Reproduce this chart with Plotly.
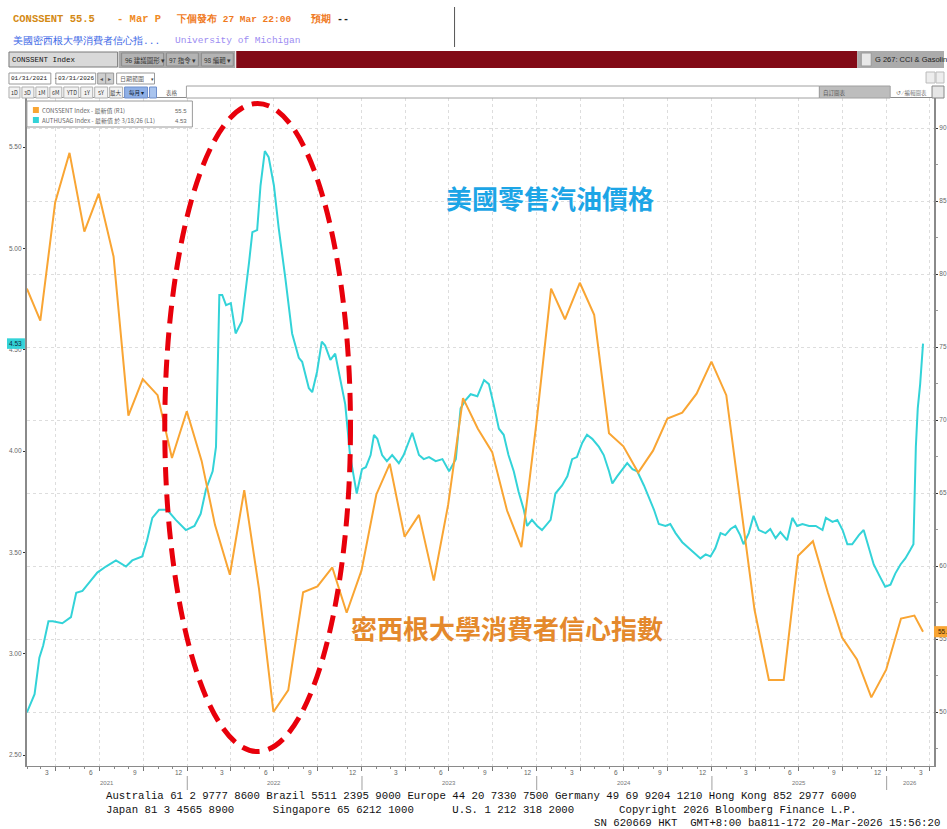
import plotly.graph_objects as go
import pandas as pd

W, H = 947, 829

# ---------------- data ----------------
sent_months = [
    "2021-01", "2021-02", "2021-03", "2021-04", "2021-05", "2021-06", "2021-07", "2021-08", "2021-09", "2021-10", "2021-11", "2021-12",
    "2022-01", "2022-02", "2022-03", "2022-04", "2022-05", "2022-06", "2022-07", "2022-08", "2022-09", "2022-10", "2022-11", "2022-12",
    "2023-01", "2023-02", "2023-03", "2023-04", "2023-05", "2023-06", "2023-07", "2023-08", "2023-09", "2023-10", "2023-11", "2023-12",
    "2024-01", "2024-02", "2024-03", "2024-04", "2024-05", "2024-06", "2024-07", "2024-08", "2024-09", "2024-10", "2024-11", "2024-12",
    "2025-01", "2025-02", "2025-03", "2025-04", "2025-05", "2025-06", "2025-07", "2025-08", "2025-09", "2025-10", "2025-11", "2025-12",
    "2026-01", "2026-02", "2026-03",
]
sent_values = [
    79.0, 76.8, 84.9, 88.3, 82.9, 85.5, 81.2, 70.3, 72.8, 71.7, 67.4, 70.6,
    67.2, 62.8, 59.4, 65.2, 58.4, 50.0, 51.5, 58.2, 58.6, 59.9, 56.8, 59.7,
    64.9, 67.0, 62.0, 63.5, 59.0, 64.2, 71.5, 69.4, 67.8, 63.8, 61.3, 69.7,
    79.0, 76.9, 79.4, 77.2, 69.1, 68.2, 66.4, 67.9, 70.1, 70.5, 71.8, 74.0,
    71.7, 64.7, 57.0, 52.2, 52.2, 60.7, 61.7, 58.2, 55.1, 53.6, 51.0, 52.9,
    56.4, 56.6, 55.5,
]
sent_last_obs = "2026-03-18"   # preliminary March reading plotted at last observation date

gas_dates = [
    "2021-01-31", "2021-02-16", "2021-02-26", "2021-03-06", "2021-03-17", "2021-03-26", "2021-04-15", "2021-05-03",
    "2021-05-14", "2021-05-27", "2021-06-10", "2021-06-27", "2021-07-15", "2021-08-05", "2021-08-26", "2021-09-08",
    "2021-09-29", "2021-10-09", "2021-10-20", "2021-11-03", "2021-11-20", "2021-12-08", "2021-12-29", "2022-01-16",
    "2022-01-29", "2022-02-09", "2022-02-23", "2022-03-02", "2022-03-09", "2022-03-15", "2022-03-23", "2022-04-02",
    "2022-04-12", "2022-04-25", "2022-05-10", "2022-05-17", "2022-05-27", "2022-06-03", "2022-06-12", "2022-06-20",
    "2022-07-01", "2022-07-11", "2022-07-25", "2022-08-08", "2022-08-22", "2022-08-29", "2022-09-12", "2022-09-19",
    "2022-09-29", "2022-10-09", "2022-10-16", "2022-10-27", "2022-11-06", "2022-11-13", "2022-11-27", "2022-12-07",
    "2022-12-21", "2023-01-01", "2023-01-09", "2023-01-19", "2023-01-26", "2023-02-02", "2023-02-12", "2023-02-22",
    "2023-03-05", "2023-03-19", "2023-03-29", "2023-04-16", "2023-04-30", "2023-05-10", "2023-05-21", "2023-06-04",
    "2023-06-18", "2023-07-02", "2023-07-16", "2023-07-26", "2023-08-05", "2023-08-16", "2023-08-30", "2023-09-13",
    "2023-09-23", "2023-10-03", "2023-10-14", "2023-10-24", "2023-11-03", "2023-11-14", "2023-11-24", "2023-12-05",
    "2023-12-12", "2023-12-22", "2024-01-02", "2024-01-12", "2024-01-23", "2024-01-30", "2024-02-09", "2024-02-23",
    "2024-03-05", "2024-03-15", "2024-03-25", "2024-04-05", "2024-04-15", "2024-04-26", "2024-05-10", "2024-05-20",
    "2024-05-31", "2024-06-07", "2024-06-17", "2024-06-28", "2024-07-08", "2024-07-19", "2024-07-29", "2024-08-12",
    "2024-08-23", "2024-09-02", "2024-09-12", "2024-09-26", "2024-10-06", "2024-10-17", "2024-10-31", "2024-11-14",
    "2024-11-24", "2024-12-08", "2024-12-19", "2024-12-29", "2025-01-08", "2025-01-19", "2025-01-29", "2025-02-09",
    "2025-02-19", "2025-03-01", "2025-03-08", "2025-03-19", "2025-03-29", "2025-04-09", "2025-04-23", "2025-05-03",
    "2025-05-14", "2025-05-24", "2025-06-07", "2025-06-18", "2025-06-28", "2025-07-09", "2025-07-23", "2025-08-06",
    "2025-08-20", "2025-08-27", "2025-09-10", "2025-09-20", "2025-10-01", "2025-10-11", "2025-10-21", "2025-11-04",
    "2025-11-14", "2025-11-25", "2025-12-05", "2025-12-19", "2025-12-29", "2026-01-09", "2026-01-19", "2026-01-30",
    "2026-02-09", "2026-02-19", "2026-02-26", "2026-03-03", "2026-03-07", "2026-03-12", "2026-03-18",
]
gas_values = [
    2.71, 2.80, 2.98, 3.04, 3.16, 3.16, 3.15, 3.18,
    3.30, 3.31, 3.35, 3.40, 3.43, 3.46, 3.43, 3.46,
    3.48, 3.56, 3.67, 3.71, 3.71, 3.66, 3.61, 3.63,
    3.69, 3.81, 3.90, 4.02, 4.77, 4.77, 4.72, 4.73,
    4.58, 4.64, 4.93, 5.08, 5.09, 5.31, 5.48, 5.45,
    5.31, 5.10, 4.85, 4.58, 4.46, 4.44, 4.31, 4.29,
    4.39, 4.54, 4.52, 4.45, 4.48, 4.40, 4.23, 3.98,
    3.79, 3.91, 3.92, 3.98, 4.08, 4.06, 3.98, 3.95,
    3.98, 3.94, 3.98, 4.09, 3.98, 3.96, 3.97, 3.95,
    3.96, 3.90, 3.96, 4.21, 4.25, 4.28, 4.27, 4.35,
    4.33, 4.23, 4.11, 4.08, 3.98, 3.90, 3.80, 3.71,
    3.63, 3.66, 3.63, 3.61, 3.64, 3.66, 3.79, 3.83,
    3.875, 3.96, 3.97, 4.04, 4.08, 4.06, 4.02, 3.98,
    3.90, 3.84, 3.875, 3.91, 3.94, 3.91, 3.90, 3.83,
    3.77, 3.71, 3.64, 3.63, 3.64, 3.595, 3.55, 3.52,
    3.50, 3.47, 3.49, 3.48, 3.52, 3.595, 3.585, 3.615,
    3.63, 3.585, 3.54, 3.595, 3.68, 3.61, 3.595, 3.615,
    3.57, 3.60, 3.56, 3.67, 3.63, 3.64, 3.63, 3.63,
    3.61, 3.67, 3.65, 3.66, 3.61, 3.54, 3.54, 3.585,
    3.61, 3.52, 3.44, 3.375, 3.33, 3.34, 3.395, 3.44,
    3.47, 3.51, 3.54, 4.02, 4.21, 4.33, 4.53,
]

left_ticks = [2.50, 3.00, 3.50, 4.00, 4.50, 5.00, 5.50]
right_ticks = [50, 55, 60, 65, 70, 75, 80, 85, 90]
month_tick_labels = {3: "3", 6: "6", 9: "9", 12: "12"}
years = [2021, 2022, 2023, 2024, 2025, 2026]

gas_last_label = "4.53"
sent_last_label = "55.5"

# ---------------- helpers ----------------
ORANGE = "#F9A533"
CYAN = "#33D3D8"
X_START, X_END = "2021-01-31", "2026-04-10"


def px(x):
    return x / W


def py(y):
    return 1 - y / H


shapes = []
annotations = []


def rect(x0, y0, x1, y1, fill, line=None, lw=1):
    shapes.append(dict(type="rect", xref="paper", yref="paper",
                       x0=px(x0), x1=px(x1), y0=py(y1), y1=py(y0),
                       fillcolor=fill, line=dict(color=line or fill, width=lw if line else 0),
                       layer="above"))


def txt(x, y, s, size, color, family="Liberation Sans", anchor="left", weight=None):
    f = dict(size=size, color=color, family=family)
    if weight:
        f["weight"] = weight
    annotations.append(dict(x=px(x), y=py(y), xref="paper", yref="paper", text=s,
                            showarrow=False, xanchor=anchor, yanchor="middle", font=f,
                            borderpad=0))


MONO = "Liberation Mono"
CJK = "Noto Sans CJK TC"

# ---------------- derived data ----------------
sent_dates = list(pd.to_datetime([m + "-01" for m in sent_months]) + pd.offsets.MonthEnd(0))
sent_dates[-1] = pd.Timestamp(sent_last_obs)

fig = go.Figure()
fig.add_trace(go.Scatter(x=pd.to_datetime(gas_dates), y=gas_values, mode="lines",
                         line=dict(color=CYAN, width=2), yaxis="y", hoverinfo="skip"))
fig.add_trace(go.Scatter(x=sent_dates, y=sent_values, mode="lines",
                         line=dict(color=ORANGE, width=2), yaxis="y2", hoverinfo="skip"))

# ---------------- header ----------------
txt(12, 19, "CONSSENT 55.5", 10.5, "#D48A14", MONO, weight="bold")
txt(116, 19, "- Mar P", 10.5, "#F08A24", MONO, weight="bold")
txt(176, 19, "下個發布 27 Mar 22:00", 9.5, "#F07A1E", MONO, weight="bold")
txt(310, 19, "預期 <span style='color:#222'>--</span>", 10, "#F07A1E", MONO, weight="bold")
txt(12, 41, "美國密西根大學消費者信心指...", 9.5, "#3A66E6", MONO)
txt(175, 41, "University of Michigan", 9.5, "#9C8CF2", MONO)
shapes.append(dict(type="line", xref="paper", yref="paper", x0=px(456), x1=px(456),
                   y0=py(47), y1=py(7), line=dict(color="#555", width=1)))

# toolbar row 1
rect(119, 51, 236, 68, "#A8A8A8")
rect(9, 52, 118, 67, "#D9D9D9", "#7A7A7A")
txt(11, 59.5, "CONSSENT Index", 7.5, "#111", MONO)
rect(122, 53, 164, 66, "#B4B4B4", "#8C8C8C")
txt(124, 59.5, "96 建議圖形 ▾", 6.5, "#333", CJK)
rect(167, 53, 199, 66, "#B4B4B4", "#8C8C8C")
txt(169, 59.5, "97 指令 ▾", 6.5, "#333", CJK)
rect(202, 53, 234, 66, "#B4B4B4", "#8C8C8C")
txt(204, 59.5, "98 編輯 ▾", 6.5, "#333", CJK)
rect(237, 51, 860, 68, "#820A16")
rect(860, 51, 947, 68, "#ABABAB")
rect(864, 53, 874, 66, "#E8E8E8", "#999")
txt(877, 59.5, "G 267: CCI & Gasoline", 7.5, "#222", "Liberation Sans")

# toolbar row 2
rect(9, 73, 51, 84, "#FFFFFF", "#9A9A9A")
txt(10, 78.5, "01/31/2021", 6, "#222", MONO)
txt(53, 78.5, "-", 6, "#222", MONO)
rect(56, 73, 96, 84, "#FFFFFF", "#9A9A9A")
txt(57, 78.5, "03/31/2026", 6, "#222", MONO)
rect(98, 73, 106, 84, "#CFCFCF", "#9A9A9A")
rect(106, 73, 114, 84, "#CFCFCF", "#9A9A9A")
txt(99, 78.5, "◂", 6, "#555")
txt(107, 78.5, "▸", 6, "#555")
rect(117, 73, 155, 84, "#FFFFFF", "#9A9A9A")
txt(119, 78.5, "日期範圍", 6, "#666", CJK)
txt(150, 78.5, "▾", 5, "#444")
rect(929, 72, 938, 83, "#EDEDED", "#BBBBBB")
rect(939, 72, 947, 83, "#EDEDED", "#BBBBBB")

# toolbar row 3
row3 = [("1D", 9, 20), ("3D", 22, 34), ("1M", 36, 48), ("6M", 50, 62), ("YTD", 64, 79),
        ("1Y", 81, 93), ("5Y", 95, 108), ("最大", 110, 123)]
for lab, a, b in row3:
    rect(a, 87, b, 98, "#F2F2F2", "#B0B0B0")
    txt((a + b) / 2, 92.5, lab, 5.5, "#333", CJK, anchor="center")
rect(125, 87, 148, 98, "#8FB0E6", "#6F8FCC")
txt(136.5, 92.5, "每月 ▾", 5.5, "#123", CJK, anchor="center")
rect(150, 87, 157, 98, "#A9C4EE", "#6F8FCC")
txt(166, 92.5, "表格", 5.5, "#555", CJK)
rect(187, 86, 822, 98, "#FFFFFF", "#A0A0A0")
rect(822, 86, 893, 98, "#BDBDBD", "#A0A0A0")
txt(825, 92.5, "自訂圖表", 5.5, "#555", CJK)
txt(898, 92.5, "↺ ⁄ 編輯圖表", 5.5, "#777", CJK)
rect(935, 86, 947, 98, "#E6E6E6", "#888")

# ---------------- legend ----------------
shapes.append(dict(type="rect", xref="paper", yref="paper", x0=px(27), x1=px(193),
                   y0=py(127), y1=py(101), fillcolor="rgba(255,255,255,0.95)",
                   line=dict(color="#9A9A9A", width=1), layer="above"))
rect(33, 107, 39, 113, ORANGE)
txt(41, 110.5, "CONSSENT Index - 最新值 (R1)", 6, "#666", CJK)
txt(189, 110.5, sent_last_label, 6, "#666", "Liberation Sans", anchor="right")
rect(33, 117, 39, 123, CYAN)
txt(41, 120.5, "AUTHUSAG Index - 最新值 於 3/18/26 (L1)", 6, "#666", CJK)
txt(189, 120.5, gas_last_label, 6, "#666", "Liberation Sans", anchor="right")

# ---------------- last value boxes ----------------
shapes.append(dict(type="rect", xref="paper", yref="y", x0=px(7), x1=px(25),
                   y0=gas_values[-1] - 0.026, y1=gas_values[-1] + 0.026,
                   fillcolor=CYAN, line=dict(width=0), layer="above"))
annotations.append(dict(x=px(16), y=gas_values[-1], xref="paper", yref="y", text=gas_last_label,
                        showarrow=False, xanchor="center", yanchor="middle",
                        font=dict(size=6.5, color="#0B2A3A", family="Liberation Sans")))
shapes.append(dict(type="rect", xref="paper", yref="y2", x0=px(937), x1=px(960),
                   y0=sent_values[-1] - 0.38, y1=sent_values[-1] + 0.38,
                   fillcolor=ORANGE, line=dict(width=0), layer="above"))
annotations.append(dict(x=px(939), y=sent_values[-1], xref="paper", yref="y2", text=sent_last_label,
                        showarrow=False, xanchor="left", yanchor="middle",
                        font=dict(size=6.5, color="#3A2400", family="Liberation Sans")))

# ---------------- x-axis labels ----------------
for yr in years:
    for m, lab in month_tick_labels.items():
        d = pd.Timestamp(year=yr, month=m, day=14)
        if pd.Timestamp(X_START) <= d <= pd.Timestamp(X_END):
            annotations.append(dict(x=d, y=py(772), xref="x", yref="paper", text=lab,
                                    showarrow=False, xanchor="center", yanchor="middle",
                                    font=dict(size=6.5, color="#666", family="Liberation Sans")))
    a = max(pd.Timestamp(year=yr, month=1, day=1), pd.Timestamp(X_START))
    b = min(pd.Timestamp(year=yr, month=12, day=31), pd.Timestamp(X_END))
    annotations.append(dict(x=a + (b - a) / 2, y=py(783), xref="x", yref="paper", text=str(yr),
                            showarrow=False, xanchor="center", yanchor="middle",
                            font=dict(size=6, color="#777", family="Liberation Sans")))
    if yr > 2021:
        shapes.append(dict(type="line", xref="x", yref="paper",
                           x0=pd.Timestamp(year=yr, month=1, day=1), x1=pd.Timestamp(year=yr, month=1, day=1),
                           y0=py(790), y1=py(776), line=dict(color="#A0A0A0", width=1)))

quarter_starts = [d for d in pd.date_range("2021-01-01", "2026-04-01", freq="QS")
                  if pd.Timestamp(X_START) <= d <= pd.Timestamp(X_END)]

# ---------------- overlay annotations ----------------
shapes.append(dict(type="circle", xref="x", yref="y",
                   x0="2021-11-15", x1="2022-12-08", y0=2.517, y1=5.715,
                   line=dict(color="#E8000B", width=5, dash="18px,9px"), layer="above"))
txt(552, 198, "美國零售汽油價格", 26, "#1CA5E6", CJK, anchor="center", weight="bold")
txt(509, 627, "密西根大學消費者信心指數", 26, "#E4892C", CJK, anchor="center", weight="bold")

# ---------------- footer ----------------
NB = "\u00a0"
foot1 = "Australia 61 2 9777 8600 Brazil 5511 2395 9000 Europe 44 20 7330 7500 Germany 49 69 9204 1210 Hong Kong 852 2977 6000"
foot2 = ("Japan 81 3 4565 8900" + " " * 6 + "Singapore 65 6212 1000" + " " * 6 +
         "U.S. 1 212 318 2000" + " " * 7 + "Copyright 2026 Bloomberg Finance L.P.")
foot3 = "SN 620669 HKT  GMT+8:00 ba811-172 20-Mar-2026 15:56:20"
txt(105, 796, foot1.replace(" ", NB), 10.7, "#111", MONO)
txt(105, 810, foot2.replace(" ", NB), 10.7, "#111", MONO)
txt(944, 823, foot3.replace(" ", NB), 10.7, "#111", MONO, anchor="right")

# ---------------- layout ----------------
PX_PER_USD = (755 - 147) / 3.0
PX_PER_PT = (712 - 128) / 40.0
y_range = [2.5 - (766 - 755) / PX_PER_USD, 5.5 + (147 - 98) / PX_PER_USD]
y2_range = [50 - (766 - 712) / PX_PER_PT, 90 + (128 - 98) / PX_PER_PT]

fig.update_layout(
    width=W, height=H, autosize=False,
    margin=dict(l=0, r=0, t=0, b=0, pad=0),
    paper_bgcolor="white", plot_bgcolor="white",
    showlegend=False,
    xaxis=dict(
        type="date", domain=[px(27), px(937)], range=[X_START, X_END],
        tickmode="array", tickvals=quarter_starts, showticklabels=False,
        ticks="outside", ticklen=4, tickcolor="#777",
        showgrid=True, gridcolor="#DDDDDD", griddash="dot", gridwidth=1,
        minor=dict(dtick="M1", tick0="2021-01-01", ticks="outside", ticklen=2, tickcolor="#888", showgrid=False),
        showline=True, linecolor="#8A8A8A", linewidth=1, mirror=True, zeroline=False,
        fixedrange=True,
    ),
    yaxis=dict(
        domain=[py(766), py(98)], range=y_range,
        tickmode="array", tickvals=left_ticks, ticktext=[f"{v:.2f}" for v in left_ticks],
        ticks="outside", ticklen=2, tickcolor="#333",
        tickfont=dict(size=6.5, color="#666", family="Liberation Sans"),
        showgrid=False, zeroline=False,
        showline=True, linecolor="#8A8A8A", linewidth=2, fixedrange=True,
    ),
    yaxis2=dict(
        overlaying="y", side="right", anchor="x", range=y2_range,
        tickmode="array", tickvals=right_ticks, ticktext=[str(v) for v in right_ticks],
        ticks="outside", ticklen=2, tickcolor="#333",
        tickfont=dict(size=6.5, color="#666", family="Liberation Sans"),
        minor=dict(dtick=2.5, ticks="outside", ticklen=2, tickcolor="#999", showgrid=False),
        showgrid=True, gridcolor="#DDDDDD", griddash="dot", gridwidth=1, zeroline=False,
        showline=True, linecolor="#8A8A8A", linewidth=2, fixedrange=True,
    ),
    shapes=shapes,
    annotations=annotations,
)

fig.write_html("out.html", config=dict(displayModeBar=False, staticPlot=True),
               post_script="document.body.style.margin='0';document.body.style.overflow='hidden';")
